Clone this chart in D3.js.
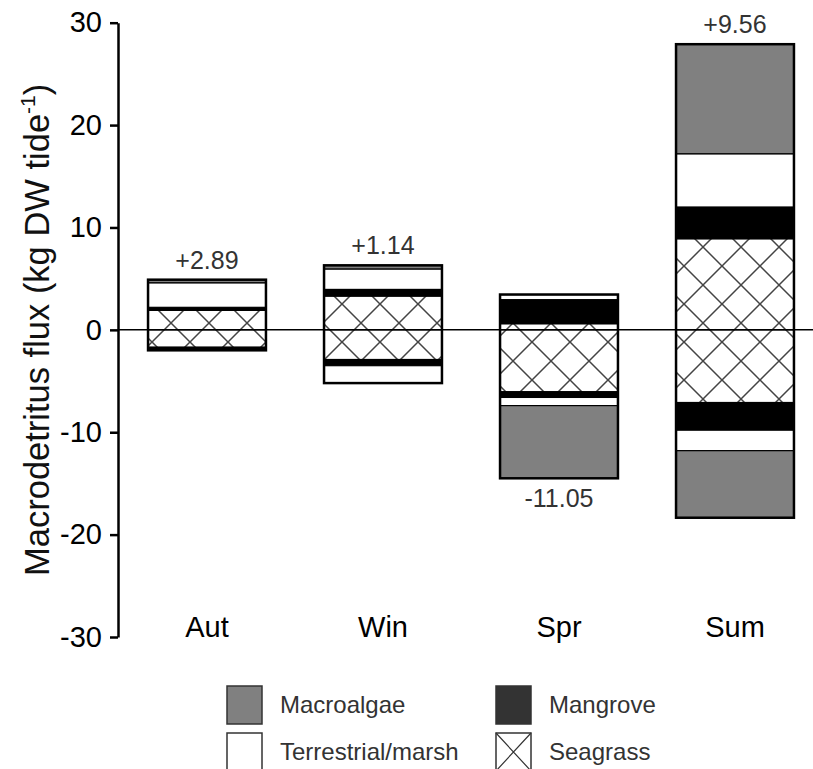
<!DOCTYPE html>
<html>
<head>
<meta charset="utf-8">
<script src="https://cdn.jsdelivr.net/npm/d3@7"></script>
<style>
  body { margin: 0; background: #fff; }
  text { font-family: Arial, "Liberation Sans", sans-serif; }
</style>
</head>
<body>
<div id="chart"></div>
<script>
// seasons and sources (stack order from zero outwards)
var seasons = ["Aut", "Win", "Spr", "Sum"]
var sources = ["Seagrass", "Mangrove", "Terrestrial/marsh", "Macroalgae"]

// import (positive) flux per source, kg DW per tide
var seagrassPos = [1.9, 3.3, 0.6, 8.9]
var mangrovePos = [0.3, 0.65, 2.35, 3.1]
var terrestrialPos = [2.4, 2.0, 0.5, 5.2]
var macroalgaePos = [0.3, 0.35, 0, 10.7]

// export (negative) flux per source
var seagrassNeg = [-1.7, -2.9, -6.05, -7.1]
var mangroveNeg = [-0.3, -0.6, -0.55, -2.7]
var terrestrialNeg = [0, -1.7, -0.8, -2.0]
var macroalgaeNeg = [0, 0, -7.1, -6.55]

// net flux labels
var netValues = [2.89, 1.14, -11.05, 9.56]
var netLabels = ["+2.89", "+1.14", "-11.05", "+9.56"]

var yTicks = [-30, -20, -10, 0, 10, 20, 30]
var legendItems = ["Macroalgae", "Mangrove", "Terrestrial/marsh", "Seagrass"]

var W = 813, H = 769

var svg = d3.select('#chart')
  .append('svg')
  .attr("width", W)
  .attr("height", H)

var fills = {
  "Seagrass": "url(#hatch)",
  "Mangrove": "#000",
  "Terrestrial/marsh": "#fff",
  "Macroalgae": "#808080"
}

// crosshatch pattern
var defs = svg.append("defs")
var pat = defs.append("pattern")
  .attr("id", "hatch")
  .attr("patternUnits", "userSpaceOnUse")
  .attr("width", 38)
  .attr("height", 38)
pat.append("rect").attr("width", 38).attr("height", 38).attr("fill", "#fff")
pat.append("path")
  .attr("d", "M0,0L38,38M38,0L0,38")
  .attr("stroke", "#444")
  .attr("stroke-width", 1.5)

var y = d3.scaleLinear()
  .domain([-30, 30])
  .range([637, 22.7])

var x = d3.scaleBand()
  .domain(seasons)
  .range([119, 823])
  .paddingInner(0.33)
  .paddingOuter(0.165)

// build stacked segments
var posBySource = [seagrassPos, mangrovePos, terrestrialPos, macroalgaePos]
var negBySource = [seagrassNeg, mangroveNeg, terrestrialNeg, macroalgaeNeg]
var segments = []
var extents = []
seasons.forEach(function (s, i) {
  var top = 0, bot = 0
  sources.forEach(function (src, k) {
    var v = posBySource[k][i]
    if (v > 0) { segments.push({ season: s, source: src, y0: top, y1: top + v }); top += v }
  })
  sources.forEach(function (src, k) {
    var v = negBySource[k][i]
    if (v < 0) { segments.push({ season: s, source: src, y0: bot + v, y1: bot }); bot += v }
  })
  extents.push({ season: s, top: top, bot: bot })
})

svg.append("g")
  .selectAll("rect")
  .data(segments)
  .enter()
  .append("rect")
  .attr("x", function (d) { return x(d.season) })
  .attr("width", x.bandwidth())
  .attr("y", function (d) { return y(d.y1) })
  .attr("height", function (d) { return y(d.y0) - y(d.y1) })
  .attr("fill", function (d) { return fills[d.source] })
  .attr("stroke", "#000")
  .attr("stroke-width", 1.2)

// zero line
svg.append("line")
  .attr("x1", 118).attr("x2", W)
  .attr("y1", y(0)).attr("y2", y(0))
  .attr("stroke", "#000")
  .attr("stroke-width", 1.5)

// bar outlines
svg.append("g")
  .selectAll("rect")
  .data(extents)
  .enter()
  .append("rect")
  .attr("x", function (d) { return x(d.season) })
  .attr("width", x.bandwidth())
  .attr("y", function (d) { return y(d.top) })
  .attr("height", function (d) { return y(d.bot) - y(d.top) })
  .attr("fill", "none")
  .attr("stroke", "#000")
  .attr("stroke-width", 2.5)

// net labels
svg.append("g")
  .selectAll("text")
  .data(extents)
  .enter()
  .append("text")
  .attr("x", function (d) { return x(d.season) + x.bandwidth() / 2 })
  .attr("y", function (d, i) {
    return netValues[i] >= 0 ? y(d.top) - 11 : y(d.bot) + 29
  })
  .attr("text-anchor", "middle")
  .attr("font-size", 25)
  .attr("fill", "#333")
  .text(function (d, i) { return netLabels[i] })

// y axis
var yAxis = svg.append("g")
  .attr("transform", "translate(118,0)")
  .call(d3.axisLeft(y).tickValues(yTicks).tickSize(8).tickPadding(8).tickSizeOuter(0)
    .tickFormat(function (d) { return String(d) }))
yAxis.select(".domain").attr("stroke-width", 2.5).attr("stroke", "#000")
yAxis.selectAll(".tick line").attr("stroke-width", 2.5).attr("stroke", "#000")
yAxis.selectAll(".tick text")
  .attr("font-size", 29)
  .attr("font-family", "Arial, 'Liberation Sans', sans-serif")
  .attr("fill", "#000")

// category labels
svg.append("g")
  .selectAll("text")
  .data(seasons)
  .enter()
  .append("text")
  .attr("x", function (d) { return x(d) + x.bandwidth() / 2 })
  .attr("y", 637)
  .attr("text-anchor", "middle")
  .attr("font-size", 29)
  .attr("fill", "#000")
  .text(function (d) { return d })

// y title
var title = svg.append("text")
  .attr("transform", "translate(49," + y(0) + ") rotate(-90)")
  .attr("text-anchor", "middle")
  .attr("font-size", 34.5)
  .attr("fill", "#111")
title.append("tspan").text("Macrodetritus flux (kg DW tide")
title.append("tspan").attr("font-size", 21).attr("dy", -14).text("-1")
title.append("tspan").attr("dy", 14).text(")")

// legend
var legendPos = [
  { x: 227, y: 686 },
  { x: 496, y: 686 },
  { x: 227, y: 733 },
  { x: 496, y: 733 }
]
var legendFill = {
  "Macroalgae": "#808080",
  "Mangrove": "#333",
  "Terrestrial/marsh": "#fff",
  "Seagrass": "#fff"
}
var lg = svg.append("g")
  .selectAll("g")
  .data(legendItems)
  .enter()
  .append("g")
  .attr("transform", function (d, i) { return "translate(" + legendPos[i].x + "," + legendPos[i].y + ")" })
lg.append("rect")
  .attr("width", 35)
  .attr("height", 38)
  .attr("fill", function (d) { return legendFill[d] })
  .attr("stroke", "#333")
  .attr("stroke-width", 1.5)
lg.filter(function (d) { return d === "Seagrass" })
  .append("path")
  .attr("d", "M0,0L35,38M35,0L0,38")
  .attr("stroke", "#333")
  .attr("stroke-width", 1.2)
lg.append("text")
  .attr("x", 53)
  .attr("y", 27)
  .attr("font-size", 24)
  .attr("fill", "#333")
  .text(function (d) { return d })
</script>
</body>
</html>
